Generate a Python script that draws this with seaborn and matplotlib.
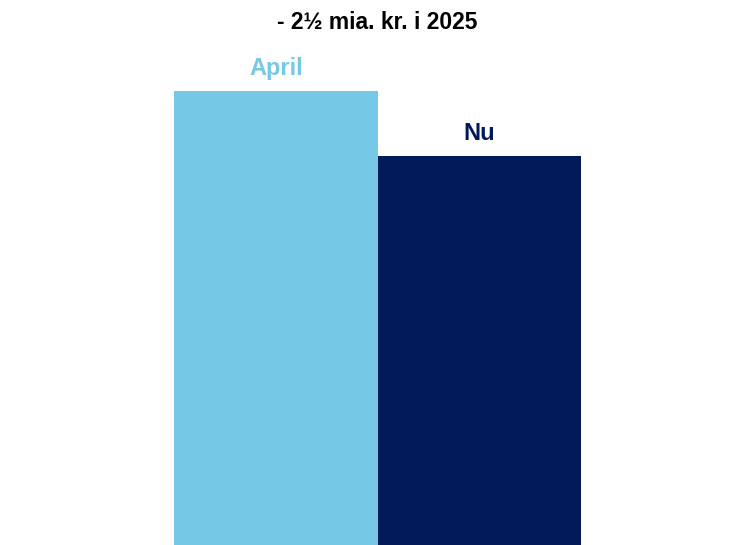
import matplotlib
matplotlib.use("Agg")
import matplotlib.pyplot as plt
import seaborn as sns
import pandas as pd

# data (bn kr.)
periods = ["April", "Nu"]
values = [17.5, 15.0]
colors = ["#75C9E6", "#001A5A"]
title = "- 2½ mia. kr. i 2025"

sns.set_style("white")
plt.rcParams["font.family"] = ["Liberation Sans", "DejaVu Sans"]

df = pd.DataFrame({"period": periods, "value": values})

fig = plt.figure(figsize=(7.29, 5.45), dpi=100)
ax = fig.add_axes([174 / 729, 0, 407 / 729, 1])

sns.barplot(data=df, x="period", y="value", hue="period", palette=colors,
            width=1.0, legend=False, ax=ax, saturation=1, linewidth=0)

ax.set_xlim(-0.5, 1.5)
ax.set_ylim(0, 21)
ax.axis("off")

# labels above bars, same colour as the bar
for i, (lab, v) in enumerate(zip(periods, values)):
    ax.annotate(lab, xy=(i, v), xytext=(0, 11.5), textcoords="offset points",
                ha="center", va="baseline", fontsize=17, fontweight="bold",
                color=colors[i])

fig.text(377 / 729, 1 - 29 / 545, title, ha="center", va="baseline",
         fontsize=16.5, fontweight="bold", color="black")

fig.savefig("out.png", dpi=100)
